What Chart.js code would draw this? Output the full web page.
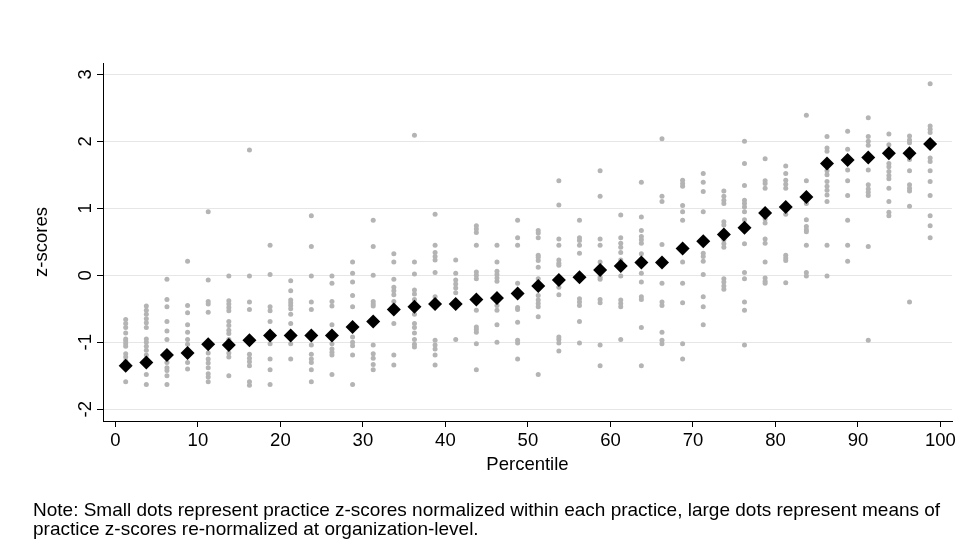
<!DOCTYPE html>
<html>
<head>
<meta charset="utf-8">
<script src="https://cdn.jsdelivr.net/npm/chart.js@4.4.1/dist/chart.umd.min.js"></script>
<style>
  html, body { margin: 0; padding: 0; background: #fff; }
  #wrap { position: relative; width: 965px; height: 556px; overflow: hidden; }
  #c { position: absolute; left: 0; top: 0; }
  #note {
    position: absolute; left: 33px; top: 500px;
    font-family: "Liberation Sans", Arial, Helvetica, sans-serif;
    font-size: 19px; line-height: 19px; color: #000; white-space: nowrap;
  }
</style>
</head>
<body>
<div id="wrap">
  <canvas id="c" width="965" height="556"></canvas>
  <div id="note">Note: Small dots represent practice z-scores normalized within each practice, large dots represent means of<br>practice z-scores re-normalized at organization-level.</div>
</div>
<script>
// Percentile bin centres (one column of practices per bin)
const percentile = [
  1.25, 3.75, 6.25, 8.75, 11.25, 13.75, 16.25, 18.75, 21.25, 23.75,
  26.25, 28.75, 31.25, 33.75, 36.25, 38.75, 41.25, 43.75, 46.25, 48.75,
  51.25, 53.75, 56.25, 58.75, 61.25, 63.75, 66.25, 68.75, 71.25, 73.75,
  76.25, 78.75, 81.25, 83.75, 86.25, 88.75, 91.25, 93.75, 96.25, 98.75
];

// Organisation-level re-normalised means (large diamonds)
const meanZ = [
  -1.35, -1.30, -1.19, -1.16, -1.03, -1.04, -0.97, -0.90, -0.90, -0.90,
  -0.90, -0.77, -0.69, -0.51, -0.47, -0.43, -0.43, -0.36, -0.34, -0.27,
  -0.16, -0.07, -0.03, 0.08, 0.14, 0.19, 0.19, 0.40, 0.51, 0.61,
  0.71, 0.93, 1.02, 1.17, 1.67, 1.72, 1.76, 1.82, 1.82, 1.96
];

// Practice z-scores normalised within each practice (small dots), one list per bin
const practiceZ = [
  [-0.66,-0.72,-0.78,-0.86,-0.95,-0.98,-1.02,-1.06,-1.17,-1.22,-1.28,-1.36,-1.59],
  [-0.46,-0.52,-0.58,-0.65,-0.71,-0.78,-0.95,-1.00,-1.06,-1.12,-1.19,-1.30,-1.48,-1.63],
  [-0.06,-0.36,-0.47,-0.69,-0.83,-0.96,-1.19,-1.30,-1.38,-1.42,-1.50,-1.63],
  [0.21,-0.45,-0.56,-0.74,-0.85,-0.96,-1.03,-1.16,-1.30,-1.40],
  [0.95,-0.07,-0.39,-0.43,-0.55,-1.03,-1.16,-1.25,-1.31,-1.38,-1.47,-1.52,-1.59],
  [-0.01,-0.38,-0.43,-0.48,-0.53,-0.69,-0.75,-0.82,-0.87,-0.96,-1.04,-1.16,-1.22,-1.50],
  [1.87,-0.01,-0.40,-0.51,-0.97,-1.18,-1.24,-1.29,-1.35,-1.59,-1.64],
  [0.45,0.01,-0.47,-0.53,-0.69,-0.90,-1.02,-1.25,-1.41,-1.63],
  [-0.08,-0.23,-0.37,-0.41,-0.45,-0.50,-0.58,-0.72,-0.90,-1.02,-1.25],
  [0.89,0.43,-0.01,-0.40,-0.51,-0.90,-1.04,-1.18,-1.25,-1.30,-1.41,-1.59],
  [-0.01,-0.12,-0.39,-0.46,-0.74,-0.90,-1.02,-1.10,-1.15,-1.19,-1.48],
  [0.20,0.03,-0.10,-0.30,-0.47,-0.77,-0.92,-1.00,-1.05,-1.19,-1.63],
  [0.82,0.43,0.00,-0.39,-0.43,-0.46,-0.69,-1.04,-1.17,-1.24,-1.33,-1.41],
  [0.32,0.20,-0.06,-0.18,-0.23,-0.29,-0.39,-0.51,-0.72,-1.19,-1.34],
  [2.09,0.20,0.02,-0.22,-0.28,-0.36,-0.47,-0.58,-0.72,-0.78,-0.86,-0.96,-1.03,-1.07],
  [0.91,0.45,0.34,0.28,0.23,0.04,-0.32,-0.43,-0.97,-1.04,-1.10,-1.19,-1.34],
  [0.23,0.03,-0.07,-0.13,-0.19,-0.26,-0.43,-0.96],
  [0.74,0.69,0.64,0.45,0.05,0.00,-0.05,-0.36,-0.52,-0.77,-0.81,-0.85,-1.02,-1.41],
  [0.45,0.20,0.06,0.01,-0.04,-0.09,-0.34,-0.45,-0.52,-0.74,-1.00],
  [0.82,0.56,0.45,-0.12,-0.27,-0.48,-0.51,-0.70,-0.97,-1.01,-1.25],
  [0.67,0.63,0.56,0.30,0.27,0.22,0.12,-0.05,-0.17,-0.30,-0.37,-0.42,-0.47,-0.62,-1.48],
  [1.41,1.05,0.54,0.45,0.23,0.18,0.15,-0.07,-0.18,-0.29,-0.92,-0.96,-1.01,-1.13],
  [0.82,0.56,0.52,0.45,0.33,-0.03,-0.35,-0.40,-0.45,-0.69,-1.01],
  [1.56,1.18,0.54,0.45,0.20,0.08,-0.03,-0.06,-0.36,-0.41,-1.04,-1.35],
  [0.90,0.56,0.48,0.42,0.34,0.23,0.14,-0.01,-0.37,-0.42,-0.47,-0.96],
  [1.39,0.87,0.67,0.58,0.53,0.48,0.32,0.19,0.03,-0.10,-0.32,-0.36,-0.78,-1.35],
  [2.04,1.18,1.10,0.46,0.19,-0.12,-0.40,-0.45,-0.85,-0.97,-1.02],
  [1.42,1.37,1.33,1.04,0.95,0.82,0.40,0.20,-0.12,-0.41,-1.02,-1.25],
  [1.52,1.39,1.25,0.95,0.51,0.33,0.28,0.21,0.01,-0.32,-0.47,-0.74],
  [1.26,1.18,1.12,1.07,0.80,0.75,0.61,0.53,0.47,0.42,-0.05,-0.10,-0.16,-0.21],
  [2.00,1.67,1.34,1.12,1.07,1.02,0.95,0.83,0.71,0.47,0.04,-0.05,-0.40,-0.52,-1.04],
  [1.74,1.41,1.37,1.30,0.93,0.84,0.78,0.54,0.48,0.20,-0.04,-0.09,-0.12],
  [1.63,1.52,1.42,1.36,1.30,1.02,0.91,0.30,0.26,0.22,-0.11],
  [2.39,1.41,1.17,1.07,0.83,0.73,0.68,0.65,0.45,0.04,-0.01],
  [2.07,1.90,1.85,1.67,1.56,1.50,1.40,1.33,1.27,1.20,1.10,0.45,-0.01],
  [2.15,1.88,1.72,1.57,1.41,1.19,0.82,0.45,0.21],
  [2.35,2.07,2.00,1.94,1.77,1.57,1.35,1.29,1.24,1.19,0.43,-0.97],
  [2.11,1.95,1.82,1.67,1.62,1.55,1.49,1.44,1.30,1.10,0.94,0.89],
  [2.08,2.02,1.98,1.82,1.73,1.56,1.35,1.30,1.26,1.03,-0.40],
  [2.86,2.23,2.18,2.13,1.96,1.75,1.70,1.56,1.40,1.19,0.89,0.74,0.56]
];

// Axis tick values
const xTicks = [0, 10, 20, 30, 40, 50, 60, 70, 80, 90, 100];
const yTicks = [-2, -1, 0, 1, 2, 3];

const practicePoints = [];
percentile.forEach((p, i) => {
  practiceZ[i].forEach(z => practicePoints.push({ x: p, y: z }));
});
const meanPoints = percentile.map((p, i) => ({ x: p, y: meanZ[i] }));

const FONT = '"Liberation Sans", Arial, Helvetica, sans-serif';

new Chart(document.getElementById('c'), {
  type: 'scatter',
  data: {
    datasets: [
      {
        label: 'Organisation-level mean',
        data: meanPoints,
        order: 0,
        pointStyle: 'rectRot',
        pointRadius: 7,
        pointBackgroundColor: '#000',
        pointBorderWidth: 0,
        pointBorderColor: '#000'
      },
      {
        label: 'Practice z-score',
        data: practicePoints,
        order: 1,
        pointStyle: 'circle',
        pointRadius: 2.5,
        pointBackgroundColor: '#b4b4b4',
        pointBorderWidth: 0,
        pointBorderColor: '#b4b4b4'
      }
    ]
  },
  options: {
    responsive: false,
    maintainAspectRatio: false,
    animation: false,
    devicePixelRatio: 1,
    events: [],
    layout: { padding: { top: 63, right: 13, bottom: 0, left: 0 } },
    plugins: { legend: { display: false }, tooltip: { enabled: false } },
    scales: {
      x: {
        type: 'linear',
        position: 'bottom',
        min: -1.5,
        max: 101.4,
        afterBuildTicks: s => { s.ticks = xTicks.map(v => ({ value: v })); },
        afterFit: s => { s.height = 135; },
        ticks: {
          color: '#000',
          font: { family: FONT, size: 18.5 },
          padding: 3,
          maxRotation: 0,
          minRotation: 0
        },
        grid: {
          drawOnChartArea: false,
          drawTicks: true,
          tickLength: 6,
          tickColor: '#000',
          tickWidth: 1
        },
        border: { display: true, color: '#000', width: 1 },
        title: {
          display: true,
          text: 'Percentile',
          color: '#000',
          font: { family: FONT, size: 18.5 },
          padding: { top: 0, bottom: 80 }
        }
      },
      y: {
        type: 'linear',
        position: 'left',
        min: -2.175,
        max: 3.169,
        afterBuildTicks: s => { s.ticks = yTicks.map(v => ({ value: v })); },
        afterFit: s => { s.width = 103; },
        ticks: {
          color: '#000',
          font: { family: FONT, size: 18.5 },
          minRotation: 90,
          maxRotation: 90,
          crossAlign: 'center',
          padding: 3
        },
        grid: {
          drawOnChartArea: true,
          color: '#e6e6e6',
          lineWidth: 1,
          drawTicks: true,
          tickLength: 6,
          tickColor: '#000',
          tickWidth: 1
        },
        border: { display: true, color: '#000', width: 1 },
        title: {
          display: true,
          text: 'z-scores',
          color: '#000',
          font: { family: FONT, size: 18.5 },
          padding: { top: 31, bottom: 0 }
        }
      }
    }
  }
});
</script>
</body>
</html>
